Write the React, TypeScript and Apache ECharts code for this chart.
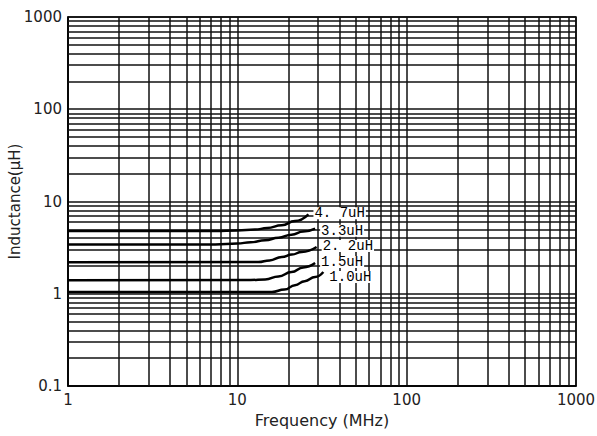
import React, { useEffect, useRef } from "react";
import * as echarts from "echarts";

const seriesNames = ["4. 7uH", "3.3uH", "2. 2uH", "1.5uH", "1.0uH"];
const curve47 = [[1, 4.79], [7.4, 4.8], [10, 4.85], [12.7, 4.96], [15, 5.15], [18.3, 5.52], [21.9, 6.15], [26.3, 7.26]];
const curve33 = [[1, 3.41], [7.4, 3.42], [10, 3.5], [12, 3.62], [14.6, 3.8], [17.5, 4.05], [20.9, 4.37], [24.5, 4.72], [28.8, 5.08]];
const curve22 = [[1, 2.2], [13.3, 2.21], [15.5, 2.3], [18.3, 2.5], [21, 2.66], [24, 2.84], [29.4, 3.21]];
const curve15 = [[1, 1.4], [12, 1.41], [14.6, 1.43], [17.5, 1.54], [20.9, 1.72], [24.5, 1.93], [28.8, 2.15]];
const curve10 = [[1, 1.045], [16, 1.045], [19, 1.11], [21.9, 1.24], [25, 1.37], [28.8, 1.52], [32.2, 1.72]];
const curves = [curve47, curve33, curve22, curve15, curve10];

const xTickLabels = ["1", "10", "100", "1000"];
const yTickLabels = ["0.1", "1", "10", "100", "1000"];
const xMinorGrid = [2, 3, 4, 5, 6, 7, 8, 9, 20, 30, 40, 50, 60, 70, 80, 90, 200, 300, 400, 500, 600, 700, 800, 900];
const yMinorGrid = [0.2, 0.3, 0.4, 0.5, 0.6, 0.7, 0.8, 0.9, 2, 3, 4, 5, 6, 7, 8, 9, 20, 30, 40, 50, 60, 70, 80, 90, 200, 300, 400, 500, 600, 700, 800, 900];

// per-series label nudges (style only)
const labelOffsets = [[0, -1], [0, 2], [0, -1], [0, -1], [0, 5]];

const GRID_COLOR = "#111";
const GRID_W = 1.5;

export default function App() {
  const ref = useRef<HTMLDivElement>(null);
  useEffect(() => {
    if (!ref.current) return;
    const chart = echarts.init(ref.current, undefined, { renderer: "svg" });
    const tickFont = { fontFamily: "DejaVu Sans", fontSize: 15, color: "#222" };
    const series: any[] = curves.map((c, i) => ({
      type: "line",
      name: seriesNames[i],
      data: c,
      showSymbol: false,
      symbol: "none",
      smooth: 0.5,
      smoothMonotone: "x",
      lineStyle: { color: "#000", width: 2.5 },
      z: 5,
      endLabel: {
        show: true,
        formatter: "{a}",
        fontFamily: "Liberation Mono",
        fontSize: 14,
        lineHeight: 12,
        color: "#000",
        backgroundColor: "#fff",
        padding: [0, 1],
        distance: 5,
        offset: labelOffsets[i],
      },
    }));
    series.push({
      type: "line",
      data: [],
      z: 2,
      silent: true,
      markLine: {
        silent: true,
        symbol: "none",
        label: { show: false },
        animation: false,
        lineStyle: { color: GRID_COLOR, width: GRID_W, type: "solid" },
        data: [
          ...xMinorGrid.map((v) => ({ xAxis: v })),
          ...yMinorGrid.map((v) => ({ yAxis: v })),
        ],
      },
    });
    chart.setOption({
      animation: false,
      grid: {
        left: 68,
        right: 21,
        top: 17,
        bottom: 50,
        outerBoundsMode: "none",
        containLabel: false,
        show: true,
        borderColor: "#000",
        borderWidth: 1.5,
      },
      xAxis: {
        type: "log",
        logBase: 10,
        min: 1,
        max: 1000,
        name: "Frequency (MHz)",
        nameLocation: "middle",
        nameGap: 26,
        nameMoveOverlap: false,
        nameTextStyle: { fontFamily: "DejaVu Sans", fontSize: 16, color: "#222" },
        axisLine: { show: true, lineStyle: { color: "#000", width: 1.5 } },
        axisTick: { show: false },
        axisLabel: {
          ...tickFont,
          margin: 6,
          formatter: (v: number) => xTickLabels[Math.round(Math.log10(v))] ?? "",
        },
        splitLine: { show: true, lineStyle: { color: GRID_COLOR, width: GRID_W } },
      },
      yAxis: {
        type: "log",
        logBase: 10,
        min: 0.1,
        max: 1000,
        name: "Inductance(μH)",
        nameLocation: "middle",
        nameGap: 46,
        nameMoveOverlap: false,
        nameTextStyle: { fontFamily: "DejaVu Sans", fontSize: 15, color: "#222" },
        axisLine: { show: true, lineStyle: { color: "#000", width: 1.5 } },
        axisTick: { show: false },
        axisLabel: {
          ...tickFont,
          margin: 6,
          formatter: (v: number) => yTickLabels[Math.round(Math.log10(v)) + 1] ?? "",
        },
        splitLine: { show: true, lineStyle: { color: GRID_COLOR, width: GRID_W } },
      },
      series,
    });
    return () => chart.dispose();
  }, []);
  return (
    <div
      ref={ref}
      style={{ position: "fixed", left: 0, top: 0, width: 597, height: 436, background: "#fff" }}
    />
  );
}
